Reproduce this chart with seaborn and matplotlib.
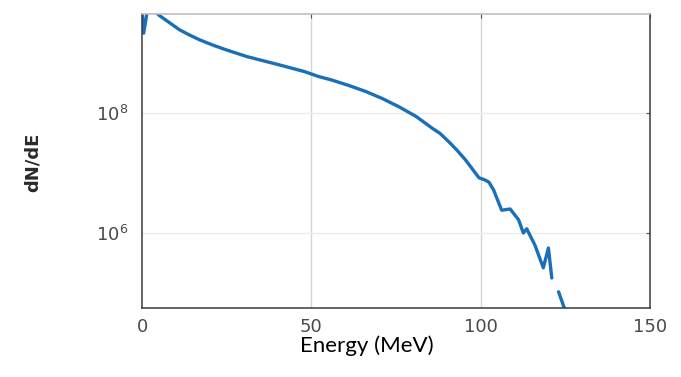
import numpy as np
import pandas as pd
import matplotlib
matplotlib.use("Agg")
import matplotlib.pyplot as plt
import seaborn as sns
from matplotlib.ticker import FixedLocator, NullLocator, LogFormatterSciNotation

# Energy (MeV) and log10(dN/dE); NaN marks a gap in the curve
energy = [0, 0.5, 1.5, 3, 5, 6.5, 8, 9.5, 11, 14, 17, 21, 25, 31, 40, 48, 52, 56,
          61, 66, 71, 76, 81, 85.6, 88, 90.6, 93, 95.5, 97.5, 99.5, 101, 102.4,
          103.8, 106.2, 108.7, 111.2, 112.6, 113.6, 116, 118.5, 120, 121, 122,
          123, 125]
log_dnde = [9.72, 9.33, 9.68, 9.75, 9.63, 9.57, 9.51, 9.45, 9.39, 9.30, 9.22,
            9.13, 9.05, 8.94, 8.81, 8.69, 8.61, 8.55, 8.46, 8.36, 8.24, 8.10,
            7.94, 7.75, 7.66, 7.52, 7.38, 7.22, 7.07, 6.92, 6.89, 6.85, 6.72,
            6.38, 6.40, 6.22, 6.0, 6.07, 5.8, 5.42, 5.75, 5.25, np.nan, 5.02, 4.7]
dnde = [10 ** v if not np.isnan(v) else np.nan for v in log_dnde]

x_ticks = [0, 50, 100, 150]
y_ticks = [1e6, 1e8]

seg, s = [], 0
for v in dnde:
    if np.isnan(v):
        s += 1
    seg.append(s)
df = pd.DataFrame({"Energy": energy, "dNdE": dnde, "seg": seg}).dropna()

sns.set_theme(style="white")
plt.rcParams["font.family"] = ["DejaVu Sans"]
plt.rcParams["mathtext.fontset"] = "dejavusans"
fig = plt.figure(figsize=(6.81, 3.77), dpi=100)
ax = fig.add_axes([142 / 681, 1 - 308 / 377, (650 - 142) / 681, (308 - 14) / 377])

sns.lineplot(data=df, x="Energy", y="dNdE", units="seg", estimator=None,
             color="#1a6fb8", linewidth=2.4, ax=ax)
ax.set_yscale("log")
ax.set_xlim(0, 150)
ax.set_ylim(10 ** 4.75, 10 ** 9.65)

ax.xaxis.set_major_locator(FixedLocator(x_ticks))
ax.yaxis.set_major_locator(FixedLocator(y_ticks))
ax.yaxis.set_minor_locator(NullLocator())
ax.yaxis.set_major_formatter(LogFormatterSciNotation())

for xv in [50, 100]:
    ax.axvline(xv, color="#d4d4d4", linewidth=1.0, zorder=0)
for yv in y_ticks:
    ax.axhline(yv, color="#ececec", linewidth=1.0, zorder=0)

ax.tick_params(axis="both", direction="in", length=3, width=0.8, color="#555555",
               labelcolor="#4a4a4a", labelsize=13, pad=7, top=True, right=True,
               labelfontfamily="DejaVu Sans")
ax.tick_params(axis="y", pad=10)

for side in ["left", "bottom", "right"]:
    ax.spines[side].set_color("#3a3a3a")
    ax.spines[side].set_linewidth(1.1)
ax.spines["top"].set_color("#b8b8b8")
ax.spines["top"].set_linewidth(1.1)

ax.set_xlabel("")
ax.set_ylabel("")
fig.text(33 / 681, 1 - 162 / 377, "dN/dE", rotation=90, ha="center", va="center",
         fontsize=13, family=["DejaVu Sans"], fontweight="bold", color="#2a2a2a")
fig.text(367 / 681, 1 - 346 / 377, "Energy (MeV)", ha="center", va="center",
         fontsize=16, family=["Lato", "DejaVu Sans"], color="#000000")

fig.savefig("out.png", dpi=100)
